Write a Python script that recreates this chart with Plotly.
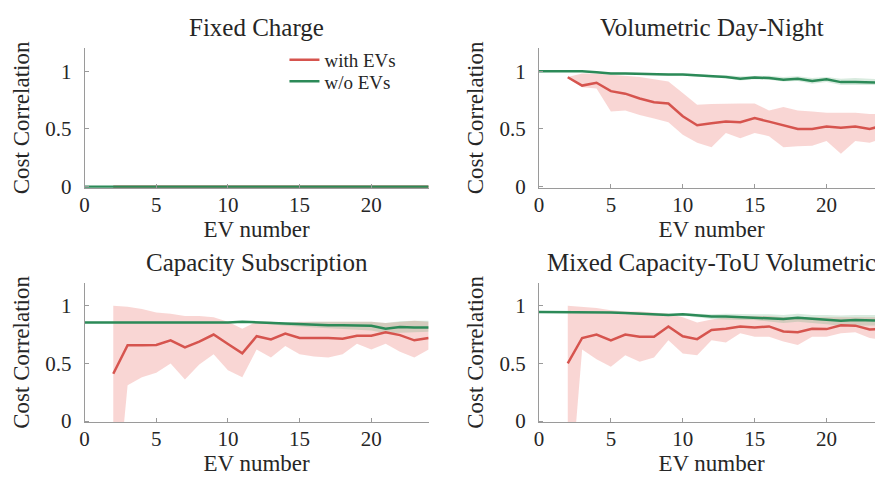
import plotly.graph_objects as go

# ---------------- data ----------------
ev_with = list(range(2, 25))
ev_wo = list(range(0, 25))

titles = ["Fixed Charge", "Volumetric Day-Night", "Capacity Subscription", "Mixed Capacity-ToU Volumetric"]

# Fixed Charge
fixed_with_mean = [0.0] * 23
fixed_with_up = [0.0] * 23
fixed_with_lo = [0.0] * 23
fixed_wo_mean = [0.0] * 25
fixed_wo_up = [0.0] * 25
fixed_wo_lo = [0.0] * 25

# Volumetric Day-Night
vol_with_mean = [0.947, 0.875, 0.90, 0.827, 0.805, 0.763, 0.73, 0.72, 0.61, 0.532, 0.549, 0.565,
                 0.557, 0.593, 0.563, 0.53, 0.50, 0.50, 0.52, 0.51, 0.52, 0.50, 0.53]
vol_with_up = [0.95, 0.98, 0.98, 0.97, 0.96, 0.95, 0.93, 0.91, 0.81, 0.71, 0.716, 0.72,
               0.72, 0.72, 0.66, 0.69, 0.66, 0.65, 0.64, 0.64, 0.64, 0.63, 0.63]
vol_with_lo = [0.94, 0.86, 0.85, 0.65, 0.66, 0.62, 0.59, 0.557, 0.45, 0.38, 0.34, 0.465,
               0.42, 0.465, 0.437, 0.34, 0.35, 0.354, 0.395, 0.284, 0.395, 0.38, 0.42]
vol_wo_mean = [1.0, 1.0, 1.0, 1.0, 0.99, 0.98, 0.98, 0.975, 0.975, 0.97, 0.97, 0.965, 0.955,
               0.95, 0.935, 0.945, 0.94, 0.925, 0.935, 0.915, 0.93, 0.905, 0.905, 0.905, 0.90]
vol_wo_up = [1.0, 1.0, 1.0, 1.0, 0.995, 0.99, 0.99, 0.985, 0.985, 0.98, 0.98, 0.975, 0.965,
             0.965, 0.955, 0.96, 0.96, 0.95, 0.955, 0.94, 0.95, 0.935, 0.94, 0.935, 0.93]
vol_wo_lo = [1.0, 1.0, 1.0, 0.995, 0.985, 0.97, 0.97, 0.965, 0.965, 0.96, 0.96, 0.955, 0.945,
             0.94, 0.92, 0.93, 0.925, 0.91, 0.915, 0.89, 0.905, 0.88, 0.875, 0.88, 0.88]

# Capacity Subscription
cap_with_mean = [0.41, 0.657, 0.657, 0.66, 0.70, 0.638, 0.688, 0.75, 0.668, 0.588, 0.735, 0.707,
                 0.758, 0.72, 0.72, 0.72, 0.713, 0.74, 0.74, 0.77, 0.745, 0.70, 0.72]
cap_with_up = [1.0, 0.99, 0.97, 0.94, 0.93, 0.91, 0.91, 0.90, 0.86, 0.80, 0.86, 0.86,
               0.85, 0.86, 0.86, 0.86, 0.86, 0.86, 0.86, 0.85, 0.86, 0.87, 0.86]
cap_with_lo = [-1.0, 0.31, 0.38, 0.42, 0.50, 0.36, 0.49, 0.58, 0.44, 0.38, 0.62, 0.55,
               0.65, 0.58, 0.56, 0.55, 0.58, 0.67, 0.62, 0.67, 0.60, 0.55, 0.62]
cap_wo_mean = [0.855, 0.855, 0.855, 0.855, 0.855, 0.855, 0.85, 0.85, 0.85, 0.85, 0.855, 0.86, 0.855,
               0.85, 0.84, 0.84, 0.835, 0.83, 0.83, 0.825, 0.825, 0.80, 0.815, 0.81, 0.81]
cap_wo_up = [0.86, 0.86, 0.86, 0.86, 0.86, 0.86, 0.855, 0.855, 0.855, 0.855, 0.86, 0.865, 0.865,
             0.86, 0.855, 0.86, 0.86, 0.86, 0.86, 0.86, 0.86, 0.85, 0.865, 0.87, 0.87]
cap_wo_lo = [0.85, 0.85, 0.85, 0.85, 0.85, 0.85, 0.845, 0.845, 0.845, 0.845, 0.85, 0.855, 0.845,
             0.84, 0.825, 0.82, 0.81, 0.80, 0.80, 0.79, 0.785, 0.76, 0.77, 0.77, 0.775]

# Mixed Capacity-ToU Volumetric
mix_with_mean = [0.50, 0.72, 0.75, 0.70, 0.75, 0.73, 0.73, 0.82, 0.735, 0.71, 0.79, 0.80,
                 0.82, 0.81, 0.82, 0.777, 0.77, 0.80, 0.797, 0.83, 0.827, 0.794, 0.80]
mix_with_up = [1.0, 0.99, 0.98, 0.96, 0.95, 0.95, 0.94, 0.93, 0.90, 0.855, 0.88, 0.90,
               0.91, 0.91, 0.91, 0.90, 0.90, 0.90, 0.90, 0.90, 0.90, 0.90, 0.90]
mix_with_lo = [-0.9, 0.62, 0.535, 0.47, 0.57, 0.515, 0.55, 0.70, 0.585, 0.57, 0.70, 0.68,
               0.76, 0.73, 0.73, 0.69, 0.66, 0.73, 0.73, 0.76, 0.77, 0.72, 0.70]
mix_wo_mean = [0.944, 0.944, 0.944, 0.943, 0.942, 0.94, 0.937, 0.93, 0.925, 0.92, 0.925, 0.915, 0.905,
               0.905, 0.90, 0.90, 0.895, 0.885, 0.895, 0.885, 0.88, 0.87, 0.875, 0.87, 0.87]
mix_wo_up = [0.948, 0.948, 0.948, 0.947, 0.946, 0.945, 0.943, 0.937, 0.935, 0.93, 0.935, 0.93, 0.925,
             0.93, 0.925, 0.925, 0.925, 0.92, 0.93, 0.92, 0.92, 0.915, 0.92, 0.92, 0.92]
mix_wo_lo = [0.94, 0.94, 0.94, 0.939, 0.938, 0.935, 0.931, 0.923, 0.915, 0.91, 0.915, 0.90, 0.885,
             0.88, 0.875, 0.875, 0.865, 0.85, 0.86, 0.85, 0.84, 0.825, 0.83, 0.83, 0.83]

x_ticks = [0, 5, 10, 15, 20]
y_ticks = [0, 0.5, 1]
y_tick_labels = ["0", "0.5", "1"]

# ---------------- style ----------------
RED = "rgb(214,84,78)"
GREEN = "rgb(44,138,88)"
RED_FILL = "rgba(236,120,112,0.30)"
GREEN_FILL = "rgba(80,165,110,0.22)"
FONT = "Liberation Serif"
TXT = "#262626"
AX = "#9a9a9a"

panels = [
    (fixed_with_mean, fixed_with_up, fixed_with_lo, fixed_wo_mean, fixed_wo_up, fixed_wo_lo),
    (vol_with_mean, vol_with_up, vol_with_lo, vol_wo_mean, vol_wo_up, vol_wo_lo),
    (cap_with_mean, cap_with_up, cap_with_lo, cap_wo_mean, cap_wo_up, cap_wo_lo),
    (mix_with_mean, mix_with_up, mix_with_lo, mix_wo_mean, mix_wo_up, mix_wo_lo),
]

W, H = 883, 480
xdoms = [[72 / W, 418 / W], [529 / W, 876 / W]]
ydoms = [[1 - 184 / H, 1 - 41 / H], [1 - 424 / H, 1 - 281 / H]]

fig = go.Figure()
for i, (wm, wu, wl, om, ou, ol) in enumerate(panels):
    sfx = "" if i == 0 else str(i + 1)
    xa, ya = "x" + sfx, "y" + sfx
    fig.add_trace(go.Scatter(x=ev_with + ev_with[::-1], y=wu + wl[::-1], fill="toself",
                             fillcolor=RED_FILL, line=dict(width=0), mode="lines",
                             hoverinfo="skip", showlegend=False, xaxis=xa, yaxis=ya))
    fig.add_trace(go.Scatter(x=ev_wo + ev_wo[::-1], y=ou + ol[::-1], fill="toself",
                             fillcolor=GREEN_FILL, line=dict(width=0), mode="lines",
                             hoverinfo="skip", showlegend=False, xaxis=xa, yaxis=ya))
    fig.add_trace(go.Scatter(x=ev_with, y=wm, mode="lines", line=dict(color=RED, width=2.5),
                             name="with EVs", showlegend=(i == 0), legend="legend",
                             xaxis=xa, yaxis=ya))
    fig.add_trace(go.Scatter(x=ev_wo, y=om, mode="lines", line=dict(color=GREEN, width=2.5),
                             name="w/o EVs", showlegend=(i == 0), legend="legend2",
                             xaxis=xa, yaxis=ya))

    r, c = divmod(i, 2)
    axis_common = dict(showline=True, linecolor=AX, linewidth=1, mirror=False, showgrid=False,
                       zeroline=False, ticks="inside", ticklen=4, tickcolor=AX,
                       tickfont=dict(family=FONT, size=21, color=TXT))
    fig.layout["xaxis" + sfx] = dict(domain=xdoms[c], range=[0, 24], tickvals=x_ticks,
                                     anchor=ya, ticklabelstandoff=-2,
                                     title=dict(text="EV number", standoff=2,
                                                font=dict(family=FONT, size=23, color=TXT)),
                                     **axis_common)
    fig.layout["yaxis" + sfx] = dict(domain=ydoms[r], range=[-0.01, 1.2], tickvals=y_ticks,
                                     ticktext=y_tick_labels, anchor=xa, ticklabelstandoff=8,
                                     title=dict(text="Cost Correlation", standoff=9,
                                                font=dict(family=FONT, size=23, color=TXT)),
                                     **axis_common)
    xc = (xdoms[c][0] + xdoms[c][1]) / 2
    ytop = ydoms[r][1]
    fig.add_annotation(text=titles[i], x=xc, y=ytop + 21 / H, xref="paper", yref="paper",
                       xanchor="center", yanchor="middle", showarrow=False,
                       font=dict(family=FONT, size=25, color=TXT))

leg_common = dict(xanchor="left", yanchor="middle", bgcolor="rgba(0,0,0,0)",
                  font=dict(family=FONT, size=19, color=TXT), itemwidth=30)
fig.update_layout(
    width=W, height=H, margin=dict(l=0, r=0, t=0, b=0),
    paper_bgcolor="white", plot_bgcolor="white",
    legend=dict(x=273 / W, y=1 - 53 / H, **leg_common),
    legend2=dict(x=273 / W, y=1 - 75 / H, **leg_common),
    showlegend=True,
)

fig.write_html("out.html")
